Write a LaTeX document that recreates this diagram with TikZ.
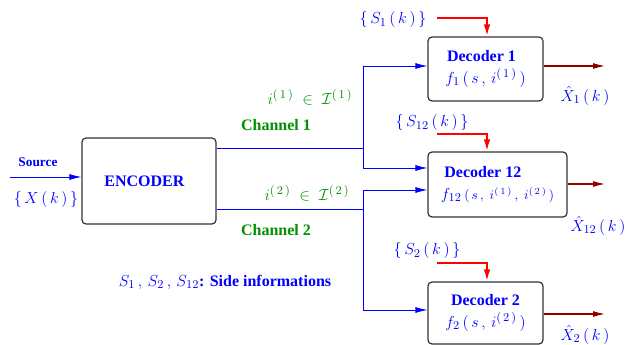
\documentclass[tikz,border=0pt]{standalone}
\usepackage{fontspec}
\setmainfont{Liberation Serif}
\usetikzlibrary{arrows.meta}

\definecolor{chgreen}{RGB}{0,144,0}
\definecolor{outred}{RGB}{144,0,0}

\tikzset{
  block/.style={draw=black!80, rounded corners=3pt, line width=0.9pt, fill=white,
    text=blue, align=center, inner sep=0pt, font=\fontsize{12}{16.5}\selectfont\bfseries},
  bus/.style={blue, line width=0.6pt},
  tip/.style={-{Latex[length=9pt,width=4.5pt]}},
  feed/.style={red, line width=1.5pt, -{Latex[length=9pt,width=5pt]}},
  outarrow/.style={outred, line width=0.8pt, -{Latex[length=9pt,width=4.5pt]}},
  sig/.style={text=blue, font=\fontsize{13}{15}\selectfont, inner sep=0pt},
  chan/.style={text=chgreen, font=\fontsize{13}{15}\selectfont, inner sep=0pt},
  lbl/.style={text=blue, font=\fontsize{10}{12}\selectfont\bfseries, inner sep=0pt}
}

\begin{document}
\begin{tikzpicture}[x=0.75pt, y=-0.75pt]
  \useasboundingbox (0,0) rectangle (640,345);

  % Blocks
  \node[block, minimum width=100.5pt, minimum height=64.5pt] (enc) at (149,181) {ENCODER\hspace*{7pt}};
  \node[block, minimum width=86.25pt, minimum height=48pt] (dec1) at (485.5,69)
    {Decoder 1\hspace*{6pt}\\ \mdseries\fontsize{13}{16.5}\selectfont$f_1\,(\,s\,,\,i^{(\,1\,)}\,)$};
  \node[block, minimum width=104.25pt, minimum height=48.75pt] (dec12) at (497.5,184.5)
    {\hspace*{-22pt}Decoder 12\\ \mdseries\fontsize{13}{16.5}\selectfont$f_{12}\,${\fontsize{10}{12}\selectfont$(\,s\,,\;i^{(\,1\,)}\,,\;i^{(\,2\,)}\,)$}};
  \node[block, minimum width=86.25pt, minimum height=46.5pt] (dec2) at (485.5,313)
    {Decoder 2\\ \mdseries\fontsize{13}{16.5}\selectfont$f_2\,(\,s\,,\,i^{(\,2\,)}\,)$};

  % Source input
  \coordinate (src) at (10,177);
  \draw[bus, tip] (src) -- (src -| enc.west);
  \node[lbl] (srclbl) at (38,162) {Source};
  \node[sig] (xk) at (46,200) {$\{\,X\,(\,k\,)\,\}$};

  % Channels and branching
  \coordinate (j1) at (363,148);
  \coordinate (j2) at (363,209);
  \coordinate (t1) at (363,66);
  \coordinate (t12a) at (363,168);
  \coordinate (t12b) at (363,190);
  \coordinate (t2) at (363,310);
  \draw[bus] (enc.east |- j1) -- (j1);
  \draw[bus] (enc.east |- j2) -- (j2);
  \draw[bus, tip] (t12a) -- (t1) -- (t1 -| dec1.west);
  \draw[bus, tip] (t1) -- (t12a) -- (t12a -| dec12.west);
  \draw[bus, tip] (t2) -- (t12b) -- (t12b -| dec12.west);
  \draw[bus, tip] (t12b) -- (t2) -- (t2 -| dec2.west);

  \node[chan] (i1) at (310,97) {$i^{(\,1\,)}\;\in\;\mathcal{I}^{(\,1\,)}$};
  \node[chan, font=\fontsize{12}{14}\selectfont\bfseries] (ch1) at (276,125) {Channel 1};
  \node[chan] (i2) at (307,193) {$i^{(\,2\,)}\;\in\;\mathcal{I}^{(\,2\,)}$};
  \node[chan, font=\fontsize{12}{14}\selectfont\bfseries] (ch2) at (276,230) {Channel 2};

  % Side informations
  \node[sig] (s1lbl) at (393,20) {$\{\,S_1\,(\,k\,)\,\}$};
  \node[sig] (s12lbl) at (432,123) {$\{\,S_{12}\,(\,k\,)\,\}$};
  \node[sig] (s2lbl) at (427,251) {$\{\,S_2\,(\,k\,)\,\}$};
  \coordinate (s1) at (437,18);   \coordinate (s1d) at (487,18);
  \coordinate (s12) at (437,134); \coordinate (s12d) at (487,134);
  \coordinate (s2) at (437,263);  \coordinate (s2d) at (487,263);
  \draw[feed] (s1) -- (s1d) -- (s1d |- dec1.north);
  \draw[feed] (s12) -- (s12d) -- (s12d |- dec12.north);
  \draw[feed] (s2) -- (s2d) -- (s2d |- dec2.north);

  % Outputs
  \coordinate (o1) at (605,66);
  \coordinate (o12) at (605,184);
  \coordinate (o2) at (605,314);
  \draw[outarrow] (o1 -| dec1.east) -- (o1);
  \draw[outarrow] (o12 -| dec12.east) -- (o12);
  \draw[outarrow] (o2 -| dec2.east) -- (o2);
  \node[sig] (x1) at (585,96) {$\hat{X}_1\,(\,k\,)$};
  \node[sig] (x12) at (598,226) {$\hat{X}_{12}\,(\,k\,)$};
  \node[sig] (x2) at (585,335) {$\hat{X}_2\,(\,k\,)$};

  \node[sig] (side) at (225,282) {$S_1\,,\,S_2\,,\,S_{12}$\textbf{\fontsize{12}{14}\selectfont: Side informations}};
\end{tikzpicture}
\end{document}
